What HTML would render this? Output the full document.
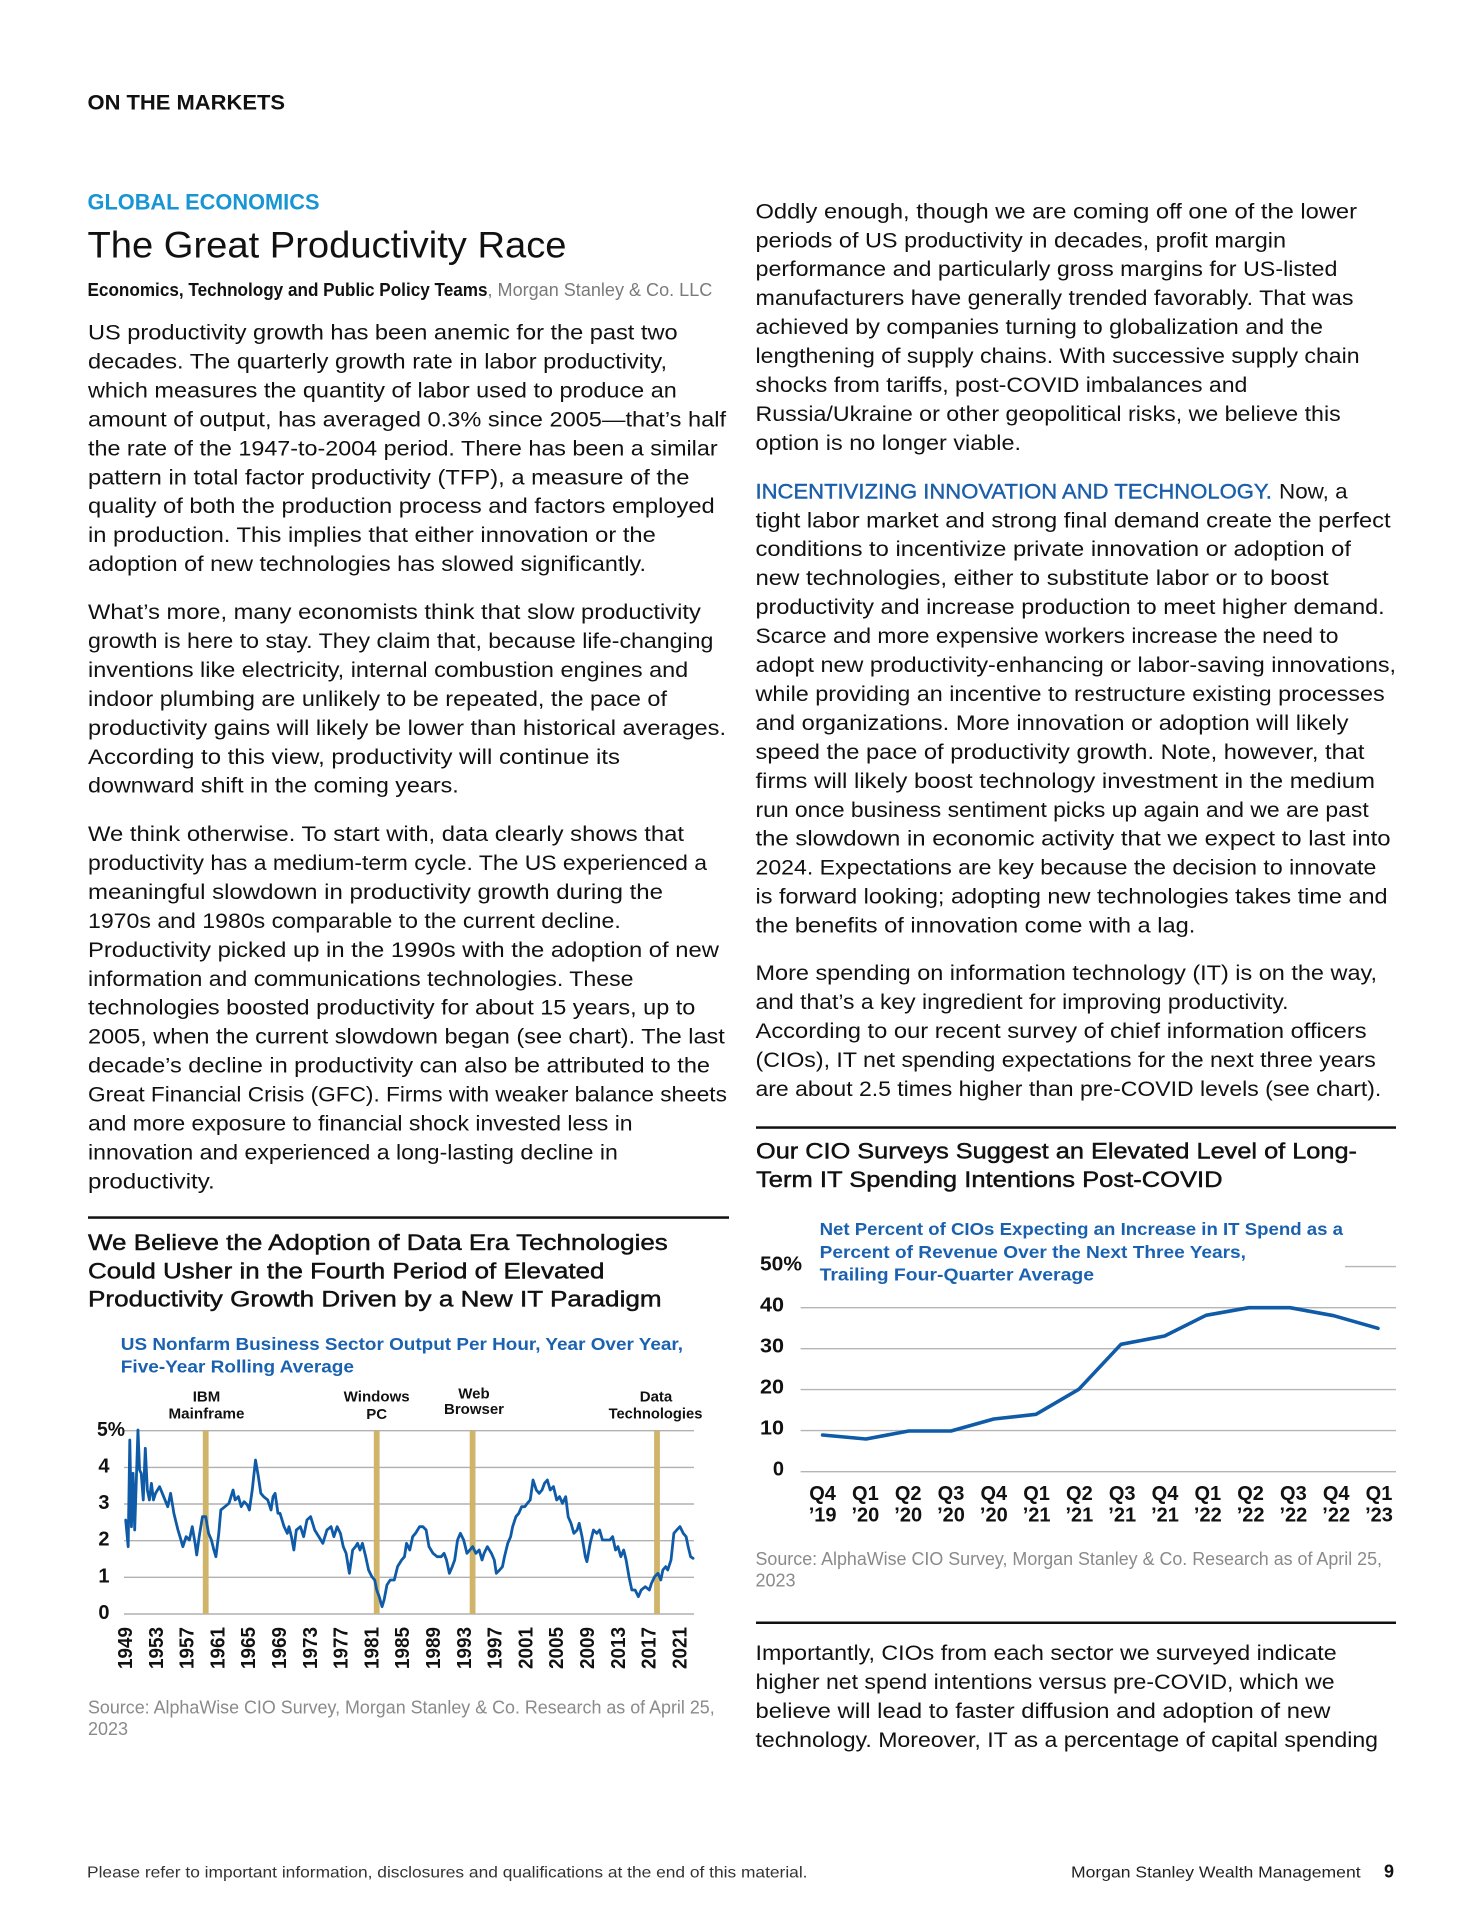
<!DOCTYPE html>
<html>
<head>
<meta charset="utf-8">
<style>
html,body{margin:0;padding:0;background:#fff;}
svg{display:block;}
text{font-family:"Liberation Sans",sans-serif;}
.b{font-size:21.5px;fill:#111;}
.src{font-size:18px;fill:#8a8a8a;}
.ct{font-size:22px;fill:#111;stroke:#111;stroke-width:0.45;}
.sub{font-size:17.5px;font-weight:bold;fill:#1a62b0;}
.ann{font-size:15px;font-weight:bold;fill:#111;}
.yl{font-size:20px;font-weight:bold;fill:#111;}
.xl{font-size:20px;font-weight:bold;fill:#111;}
</style>
</head>
<body>
<svg width="1484" height="1920" viewBox="0 0 1484 1920" xmlns="http://www.w3.org/2000/svg">
<rect x="0" y="0" width="1484" height="1920" fill="#fff"/>

<!-- Header -->
<text x="87.5" y="109.3" font-size="21" font-weight="bold" fill="#111" textLength="197.5" lengthAdjust="spacingAndGlyphs">ON THE MARKETS</text>
<text x="87.5" y="209.3" font-size="22" font-weight="bold" fill="#1896d4" textLength="232" lengthAdjust="spacingAndGlyphs">GLOBAL ECONOMICS</text>
<text x="87.5" y="257.3" font-size="37.5" fill="#111" textLength="479" lengthAdjust="spacingAndGlyphs">The Great Productivity Race</text>
<text x="87.5" y="296" font-size="18" font-weight="bold" fill="#111" textLength="400" lengthAdjust="spacingAndGlyphs">Economics, Technology and Public Policy Teams</text>
<text x="487.5" y="296" font-size="18" fill="#7a7a7a" textLength="224.8" lengthAdjust="spacingAndGlyphs">, Morgan Stanley &amp; Co. LLC</text>

<!-- Left column body -->
<g class="b">
<text x="88" y="339.5" textLength="589.6" lengthAdjust="spacingAndGlyphs">US productivity growth has been anemic for the past two</text>
<text x="88" y="368.45" textLength="579" lengthAdjust="spacingAndGlyphs">decades. The quarterly growth rate in labor productivity,</text>
<text x="88" y="397.4" textLength="588.8" lengthAdjust="spacingAndGlyphs">which measures the quantity of labor used to produce an</text>
<text x="88" y="426.35" textLength="638" lengthAdjust="spacingAndGlyphs">amount of output, has averaged 0.3% since 2005—that’s half</text>
<text x="88" y="455.3" textLength="629.6" lengthAdjust="spacingAndGlyphs">the rate of the 1947-to-2004 period. There has been a similar</text>
<text x="88" y="484.25" textLength="601.4" lengthAdjust="spacingAndGlyphs">pattern in total factor productivity (TFP), a measure of the</text>
<text x="88" y="513.2" textLength="626.7" lengthAdjust="spacingAndGlyphs">quality of both the production process and factors employed</text>
<text x="88" y="542.15" textLength="567.8" lengthAdjust="spacingAndGlyphs">in production. This implies that either innovation or the</text>
<text x="88" y="571.1" textLength="558" lengthAdjust="spacingAndGlyphs">adoption of new technologies has slowed significantly.</text>

<text x="88" y="619" textLength="612.8" lengthAdjust="spacingAndGlyphs">What’s more, many economists think that slow productivity</text>
<text x="88" y="647.95" textLength="625.4" lengthAdjust="spacingAndGlyphs">growth is here to stay. They claim that, because life-changing</text>
<text x="88" y="676.9" textLength="600.2" lengthAdjust="spacingAndGlyphs">inventions like electricity, internal combustion engines and</text>
<text x="88" y="705.85" textLength="579" lengthAdjust="spacingAndGlyphs">indoor plumbing are unlikely to be repeated, the pace of</text>
<text x="88" y="734.8" textLength="638" lengthAdjust="spacingAndGlyphs">productivity gains will likely be lower than historical averages.</text>
<text x="88" y="763.75" textLength="532" lengthAdjust="spacingAndGlyphs">According to this view, productivity will continue its</text>
<text x="88" y="792.7" textLength="370.8" lengthAdjust="spacingAndGlyphs">downward shift in the coming years.</text>

<text x="88" y="841" textLength="596" lengthAdjust="spacingAndGlyphs">We think otherwise. To start with, data clearly shows that</text>
<text x="88" y="869.95" textLength="619" lengthAdjust="spacingAndGlyphs">productivity has a medium-term cycle. The US experienced a</text>
<text x="88" y="898.9" textLength="575" lengthAdjust="spacingAndGlyphs">meaningful slowdown in productivity growth during the</text>
<text x="88" y="927.85" textLength="532.8" lengthAdjust="spacingAndGlyphs">1970s and 1980s comparable to the current decline.</text>
<text x="88" y="956.8" textLength="630.9" lengthAdjust="spacingAndGlyphs">Productivity picked up in the 1990s with the adoption of new</text>
<text x="88" y="985.75" textLength="545.5" lengthAdjust="spacingAndGlyphs">information and communications technologies. These</text>
<text x="88" y="1014.7" textLength="607.3" lengthAdjust="spacingAndGlyphs">technologies boosted productivity for about 15 years, up to</text>
<text x="88" y="1043.65" textLength="636.8" lengthAdjust="spacingAndGlyphs">2005, when the current slowdown began (see chart). The last</text>
<text x="88" y="1072.6" textLength="622" lengthAdjust="spacingAndGlyphs">decade’s decline in productivity can also be attributed to the</text>
<text x="88" y="1101.55" textLength="638.9" lengthAdjust="spacingAndGlyphs">Great Financial Crisis (GFC). Firms with weaker balance sheets</text>
<text x="88" y="1130.5" textLength="544.6" lengthAdjust="spacingAndGlyphs">and more exposure to financial shock invested less in</text>
<text x="88" y="1159.45" textLength="529.9" lengthAdjust="spacingAndGlyphs">innovation and experienced a long-lasting decline in</text>
<text x="88" y="1188.4" textLength="126.7" lengthAdjust="spacingAndGlyphs">productivity.</text>
</g>

<!-- Right column body -->
<g class="b">
<text x="755.5" y="218.3" textLength="601.5" lengthAdjust="spacingAndGlyphs">Oddly enough, though we are coming off one of the lower</text>
<text x="755.5" y="247.25" textLength="530.5" lengthAdjust="spacingAndGlyphs">periods of US productivity in decades, profit margin</text>
<text x="755.5" y="276.2" textLength="581.9" lengthAdjust="spacingAndGlyphs">performance and particularly gross margins for US-listed</text>
<text x="755.5" y="305.15" textLength="598" lengthAdjust="spacingAndGlyphs">manufacturers have generally trended favorably. That was</text>
<text x="755.5" y="334.1" textLength="567.5" lengthAdjust="spacingAndGlyphs">achieved by companies turning to globalization and the</text>
<text x="755.5" y="363.05" textLength="604.1" lengthAdjust="spacingAndGlyphs">lengthening of supply chains. With successive supply chain</text>
<text x="755.5" y="392" textLength="491.9" lengthAdjust="spacingAndGlyphs">shocks from tariffs, post-COVID imbalances and</text>
<text x="755.5" y="420.95" textLength="585.2" lengthAdjust="spacingAndGlyphs">Russia/Ukraine or other geopolitical risks, we believe this</text>
<text x="755.5" y="449.9" textLength="265.5" lengthAdjust="spacingAndGlyphs">option is no longer viable.</text>

<text x="755.5" y="498.3" fill="#1b5fab" stroke="#1b5fab" stroke-width="0.4" textLength="516.4" lengthAdjust="spacingAndGlyphs">INCENTIVIZING INNOVATION AND TECHNOLOGY.</text>
<text x="1279" y="498.3" textLength="68.6" lengthAdjust="spacingAndGlyphs">Now, a</text>
<text x="755.5" y="527.25" textLength="635.1" lengthAdjust="spacingAndGlyphs">tight labor market and strong final demand create the perfect</text>
<text x="755.5" y="556.2" textLength="595.5" lengthAdjust="spacingAndGlyphs">conditions to incentivize private innovation or adoption of</text>
<text x="755.5" y="585.15" textLength="573.2" lengthAdjust="spacingAndGlyphs">new technologies, either to substitute labor or to boost</text>
<text x="755.5" y="614.1" textLength="629.2" lengthAdjust="spacingAndGlyphs">productivity and increase production to meet higher demand.</text>
<text x="755.5" y="643.05" textLength="582.9" lengthAdjust="spacingAndGlyphs">Scarce and more expensive workers increase the need to</text>
<text x="755.5" y="672" textLength="640.5" lengthAdjust="spacingAndGlyphs">adopt new productivity-enhancing or labor-saving innovations,</text>
<text x="755.5" y="700.95" textLength="629.2" lengthAdjust="spacingAndGlyphs">while providing an incentive to restructure existing processes</text>
<text x="755.5" y="729.9" textLength="593" lengthAdjust="spacingAndGlyphs">and organizations. More innovation or adoption will likely</text>
<text x="755.5" y="758.85" textLength="609" lengthAdjust="spacingAndGlyphs">speed the pace of productivity growth. Note, however, that</text>
<text x="755.5" y="787.8" textLength="619.5" lengthAdjust="spacingAndGlyphs">firms will likely boost technology investment in the medium</text>
<text x="755.5" y="816.75" textLength="613.2" lengthAdjust="spacingAndGlyphs">run once business sentiment picks up again and we are past</text>
<text x="755.5" y="845.7" textLength="635.1" lengthAdjust="spacingAndGlyphs">the slowdown in economic activity that we expect to last into</text>
<text x="755.5" y="874.65" textLength="620.8" lengthAdjust="spacingAndGlyphs">2024. Expectations are key because the decision to innovate</text>
<text x="755.5" y="903.6" textLength="632.1" lengthAdjust="spacingAndGlyphs">is forward looking; adopting new technologies takes time and</text>
<text x="755.5" y="932.55" textLength="439.8" lengthAdjust="spacingAndGlyphs">the benefits of innovation come with a lag.</text>

<text x="755.5" y="980" textLength="621.5" lengthAdjust="spacingAndGlyphs">More spending on information technology (IT) is on the way,</text>
<text x="755.5" y="1008.95" textLength="533" lengthAdjust="spacingAndGlyphs">and that’s a key ingredient for improving productivity.</text>
<text x="755.5" y="1037.9" textLength="611.1" lengthAdjust="spacingAndGlyphs">According to our recent survey of chief information officers</text>
<text x="755.5" y="1066.85" textLength="620.3" lengthAdjust="spacingAndGlyphs">(CIOs), IT net spending expectations for the next three years</text>
<text x="755.5" y="1095.8" textLength="625.8" lengthAdjust="spacingAndGlyphs">are about 2.5 times higher than pre-COVID levels (see chart).</text>

<text x="755.5" y="1660" textLength="581.1" lengthAdjust="spacingAndGlyphs">Importantly, CIOs from each sector we surveyed indicate</text>
<text x="755.5" y="1688.95" textLength="579.1" lengthAdjust="spacingAndGlyphs">higher net spend intentions versus pre-COVID, which we</text>
<text x="755.5" y="1717.9" textLength="574.9" lengthAdjust="spacingAndGlyphs">believe will lead to faster diffusion and adoption of new</text>
<text x="755.5" y="1746.85" textLength="622.5" lengthAdjust="spacingAndGlyphs">technology. Moreover, IT as a percentage of capital spending</text>
</g>

<!-- Rules -->
<rect x="88" y="1216.3" width="641" height="2.5" fill="#111"/>
<rect x="756" y="1126.3" width="640" height="2.5" fill="#111"/>
<rect x="756" y="1621.5" width="640" height="2.5" fill="#111"/>

<!-- LEFT CHART -->
<text class="ct" x="88" y="1250" textLength="579.8" lengthAdjust="spacingAndGlyphs">We Believe the Adoption of Data Era Technologies</text>
<text class="ct" x="88" y="1278.3" textLength="516.5" lengthAdjust="spacingAndGlyphs">Could Usher in the Fourth Period of Elevated</text>
<text class="ct" x="88" y="1306.7" textLength="573.6" lengthAdjust="spacingAndGlyphs">Productivity Growth Driven by a New IT Paradigm</text>
<text class="sub" x="120.8" y="1350" textLength="562.2" lengthAdjust="spacingAndGlyphs">US Nonfarm Business Sector Output Per Hour, Year Over Year,</text>
<text class="sub" x="120.8" y="1372.7" textLength="233.2" lengthAdjust="spacingAndGlyphs">Five-Year Rolling Average</text>

<g class="ann" text-anchor="middle">
<text x="206.5" y="1401.7">IBM</text>
<text x="206.5" y="1418.3" textLength="76" lengthAdjust="spacingAndGlyphs">Mainframe</text>
<text x="376.7" y="1401.7" textLength="66" lengthAdjust="spacingAndGlyphs">Windows</text>
<text x="376.7" y="1419">PC</text>
<text x="474" y="1398.3">Web</text>
<text x="474" y="1414" textLength="60" lengthAdjust="spacingAndGlyphs">Browser</text>
<text x="656" y="1401.7">Data</text>
<text x="655.5" y="1418.3" textLength="93.8" lengthAdjust="spacingAndGlyphs">Technologies</text>
</g>

<g stroke="#b0b0b0" stroke-width="1.4">
<line x1="124" y1="1430.7" x2="694" y2="1430.7"/>
<line x1="124" y1="1467.4" x2="694" y2="1467.4"/>
<line x1="124" y1="1504" x2="694" y2="1504"/>
<line x1="124" y1="1540.7" x2="694" y2="1540.7"/>
<line x1="124" y1="1577.3" x2="694" y2="1577.3"/>
<line x1="124" y1="1614" x2="694" y2="1614"/>
</g>
<g class="yl">
<text x="97" y="1436" textLength="28" lengthAdjust="spacingAndGlyphs">5%</text>
<text x="109.5" y="1472.4" text-anchor="end">4</text>
<text x="109.5" y="1509" text-anchor="end">3</text>
<text x="109.5" y="1545.7" text-anchor="end">2</text>
<text x="109.5" y="1582.3" text-anchor="end">1</text>
<text x="109.5" y="1619" text-anchor="end">0</text>
</g>

<g fill="#cfb46a">
<rect x="202.8" y="1430.7" width="5.8" height="183.3"/>
<rect x="373.8" y="1430.7" width="5.8" height="183.3"/>
<rect x="469.7" y="1430.7" width="5.8" height="183.3"/>
<rect x="654.1" y="1430.7" width="5.8" height="183.3"/>
</g>

<g transform="translate(80,1390) scale(0.40816,0.33333)">
<path fill="none" stroke="#0f5ba7" stroke-width="2.8" vector-effect="non-scaling-stroke" stroke-linejoin="round" stroke-linecap="round"
d="M112,390 L118,470 L122,150 L126,410 L130,250 L134,420 L138,270 L142,120 L146,240 L150,250 L155,330 L160,175 L165,300 L170,330 L175,280 L180,330 L185,310 L195,290 L205,320 L215,350 L222,310 L230,370 L240,420 L245,440 L252,470 L260,440 L268,450 L275,410 L282,460 L286,495 L292,440 L300,380 L308,380 L315,430 L322,450 L328,480 L333,500 L340,430 L345,360 L355,350 L365,340 L375,300 L380,330 L388,320 L395,350 L402,335 L410,345 L415,360 L422,300 L430,210 L437,260 L443,310 L450,320 L460,330 L468,360 L473,320 L478,310 L485,370 L490,370 L500,410 L508,430 L512,410 L518,440 L524,480 L530,420 L540,410 L548,440 L556,390 L565,380 L575,420 L585,440 L595,460 L605,420 L615,410 L622,440 L630,410 L638,430 L645,470 L652,490 L660,550 L668,480 L675,470 L680,460 L686,480 L692,460 L700,500 L707,540 L715,560 L722,570 L727,600 L733,620 L740,650 L745,630 L752,585 L760,570 L770,570 L778,530 L788,510 L795,500 L800,460 L808,480 L815,440 L822,430 L832,410 L840,410 L848,420 L855,470 L865,490 L875,500 L885,500 L892,490 L898,510 L905,550 L912,530 L918,510 L925,450 L932,430 L940,450 L948,490 L955,480 L962,470 L970,490 L978,480 L985,510 L990,490 L998,470 L1008,490 L1015,510 L1020,550 L1028,540 L1035,530 L1040,500 L1048,460 L1055,440 L1060,410 L1068,380 L1075,370 L1082,350 L1090,350 L1096,340 L1103,330 L1110,270 L1118,300 L1125,310 L1132,300 L1138,280 L1145,270 L1152,300 L1160,290 L1168,330 L1175,320 L1182,340 L1190,320 L1196,380 L1203,400 L1210,430 L1218,420 L1223,400 L1230,440 L1238,500 L1242,515 L1250,460 L1258,420 L1266,430 L1273,420 L1280,450 L1290,450 L1298,450 L1305,440 L1312,480 L1318,470 L1325,500 L1332,480 L1338,510 L1345,560 L1352,600 L1360,600 L1368,620 L1375,600 L1385,590 L1395,600 L1400,580 L1408,560 L1416,550 L1423,570 L1428,540 L1435,530 L1440,540 L1448,510 L1455,430 L1462,420 L1470,410 L1478,430 L1485,440 L1490,470 L1496,500 L1502,505"/>
</g>

<g class="xl" text-anchor="end" font-size="20">
<text transform="translate(132,1627) rotate(-90)" textLength="42" lengthAdjust="spacingAndGlyphs">1949</text>
<text transform="translate(162.8,1627) rotate(-90)" textLength="42" lengthAdjust="spacingAndGlyphs">1953</text>
<text transform="translate(193.6,1627) rotate(-90)" textLength="42" lengthAdjust="spacingAndGlyphs">1957</text>
<text transform="translate(224.4,1627) rotate(-90)" textLength="42" lengthAdjust="spacingAndGlyphs">1961</text>
<text transform="translate(255.2,1627) rotate(-90)" textLength="42" lengthAdjust="spacingAndGlyphs">1965</text>
<text transform="translate(286,1627) rotate(-90)" textLength="42" lengthAdjust="spacingAndGlyphs">1969</text>
<text transform="translate(316.8,1627) rotate(-90)" textLength="42" lengthAdjust="spacingAndGlyphs">1973</text>
<text transform="translate(347.6,1627) rotate(-90)" textLength="42" lengthAdjust="spacingAndGlyphs">1977</text>
<text transform="translate(378.4,1627) rotate(-90)" textLength="42" lengthAdjust="spacingAndGlyphs">1981</text>
<text transform="translate(409.2,1627) rotate(-90)" textLength="42" lengthAdjust="spacingAndGlyphs">1985</text>
<text transform="translate(440,1627) rotate(-90)" textLength="42" lengthAdjust="spacingAndGlyphs">1989</text>
<text transform="translate(470.8,1627) rotate(-90)" textLength="42" lengthAdjust="spacingAndGlyphs">1993</text>
<text transform="translate(501.6,1627) rotate(-90)" textLength="42" lengthAdjust="spacingAndGlyphs">1997</text>
<text transform="translate(532.4,1627) rotate(-90)" textLength="42" lengthAdjust="spacingAndGlyphs">2001</text>
<text transform="translate(563.2,1627) rotate(-90)" textLength="42" lengthAdjust="spacingAndGlyphs">2005</text>
<text transform="translate(594,1627) rotate(-90)" textLength="42" lengthAdjust="spacingAndGlyphs">2009</text>
<text transform="translate(624.8,1627) rotate(-90)" textLength="42" lengthAdjust="spacingAndGlyphs">2013</text>
<text transform="translate(655.6,1627) rotate(-90)" textLength="42" lengthAdjust="spacingAndGlyphs">2017</text>
<text transform="translate(686.4,1627) rotate(-90)" textLength="42" lengthAdjust="spacingAndGlyphs">2021</text>
</g>

<text class="src" x="88" y="1713.3" textLength="626.7" lengthAdjust="spacingAndGlyphs">Source: AlphaWise CIO Survey, Morgan Stanley &amp; Co. Research as of April 25,</text>
<text class="src" x="88" y="1735">2023</text>

<!-- RIGHT CHART -->
<text class="ct" x="756" y="1158.3" textLength="601" lengthAdjust="spacingAndGlyphs">Our CIO Surveys Suggest an Elevated Level of Long-</text>
<text class="ct" x="756" y="1186.9" textLength="466.6" lengthAdjust="spacingAndGlyphs">Term IT Spending Intentions Post-COVID</text>
<text class="sub" x="819.6" y="1235" textLength="523.4" lengthAdjust="spacingAndGlyphs">Net Percent of CIOs Expecting an Increase in IT Spend as a</text>
<text class="sub" x="819.6" y="1258" textLength="426.4" lengthAdjust="spacingAndGlyphs">Percent of Revenue Over the Next Three Years,</text>
<text class="sub" x="819.6" y="1280.7" textLength="274.4" lengthAdjust="spacingAndGlyphs">Trailing Four-Quarter Average</text>

<g stroke="#b5b5b5" stroke-width="1.4">
<line x1="1345" y1="1266.6" x2="1396" y2="1266.6"/>
<line x1="800.6" y1="1307.7" x2="1396" y2="1307.7"/>
<line x1="800.6" y1="1348.7" x2="1396" y2="1348.7"/>
<line x1="800.6" y1="1389.6" x2="1396" y2="1389.6"/>
<line x1="800.6" y1="1430.6" x2="1396" y2="1430.6"/>
<line x1="800.6" y1="1471.7" x2="1396" y2="1471.7"/>
</g>
<g class="yl" font-size="19">
<text x="760" y="1270.7" textLength="42" lengthAdjust="spacingAndGlyphs">50%</text>
<text x="784" y="1311.7" text-anchor="end" textLength="24" lengthAdjust="spacingAndGlyphs">40</text>
<text x="784" y="1352.7" text-anchor="end" textLength="24" lengthAdjust="spacingAndGlyphs">30</text>
<text x="784" y="1393.6" text-anchor="end" textLength="24" lengthAdjust="spacingAndGlyphs">20</text>
<text x="784" y="1434.6" text-anchor="end" textLength="24" lengthAdjust="spacingAndGlyphs">10</text>
<text x="784" y="1475.7" text-anchor="end">0</text>
</g>

<polyline fill="none" stroke="#0f5ba7" stroke-width="3.6" stroke-linejoin="round" stroke-linecap="round"
points="822.6,1435 866,1439 908.8,1431 951,1431 993.8,1419 1036,1414.3 1078.8,1389.3 1121,1344.3 1164.6,1336 1206,1315.3 1248.8,1307.7 1290,1307.7 1333.7,1315.7 1378,1328.3"/>

<g class="xl" text-anchor="middle">
<text x="822.6" y="1500">Q4</text><text x="822.6" y="1521.7">’19</text>
<text x="865.4" y="1500">Q1</text><text x="865.4" y="1521.7">’20</text>
<text x="908.2" y="1500">Q2</text><text x="908.2" y="1521.7">’20</text>
<text x="951" y="1500">Q3</text><text x="951" y="1521.7">’20</text>
<text x="993.8" y="1500">Q4</text><text x="993.8" y="1521.7">’20</text>
<text x="1036.6" y="1500">Q1</text><text x="1036.6" y="1521.7">’21</text>
<text x="1079.4" y="1500">Q2</text><text x="1079.4" y="1521.7">’21</text>
<text x="1122.2" y="1500">Q3</text><text x="1122.2" y="1521.7">’21</text>
<text x="1165" y="1500">Q4</text><text x="1165" y="1521.7">’21</text>
<text x="1207.8" y="1500">Q1</text><text x="1207.8" y="1521.7">’22</text>
<text x="1250.6" y="1500">Q2</text><text x="1250.6" y="1521.7">’22</text>
<text x="1293.4" y="1500">Q3</text><text x="1293.4" y="1521.7">’22</text>
<text x="1336.2" y="1500">Q4</text><text x="1336.2" y="1521.7">’22</text>
<text x="1379" y="1500">Q1</text><text x="1379" y="1521.7">’23</text>
</g>

<text class="src" x="755.5" y="1565" textLength="626.5" lengthAdjust="spacingAndGlyphs">Source: AlphaWise CIO Survey, Morgan Stanley &amp; Co. Research as of April 25,</text>
<text class="src" x="755.5" y="1586.7">2023</text>

<!-- Footer -->
<text x="87" y="1877.7" font-size="16" fill="#333" textLength="720.5" lengthAdjust="spacingAndGlyphs">Please refer to important information, disclosures and qualifications at the end of this material.</text>
<text x="1071" y="1877.7" font-size="16" fill="#222" textLength="289.6" lengthAdjust="spacingAndGlyphs">Morgan Stanley Wealth Management</text>
<text x="1384" y="1877.7" font-size="18" font-weight="bold" fill="#111">9</text>
</svg>
</body>
</html>
